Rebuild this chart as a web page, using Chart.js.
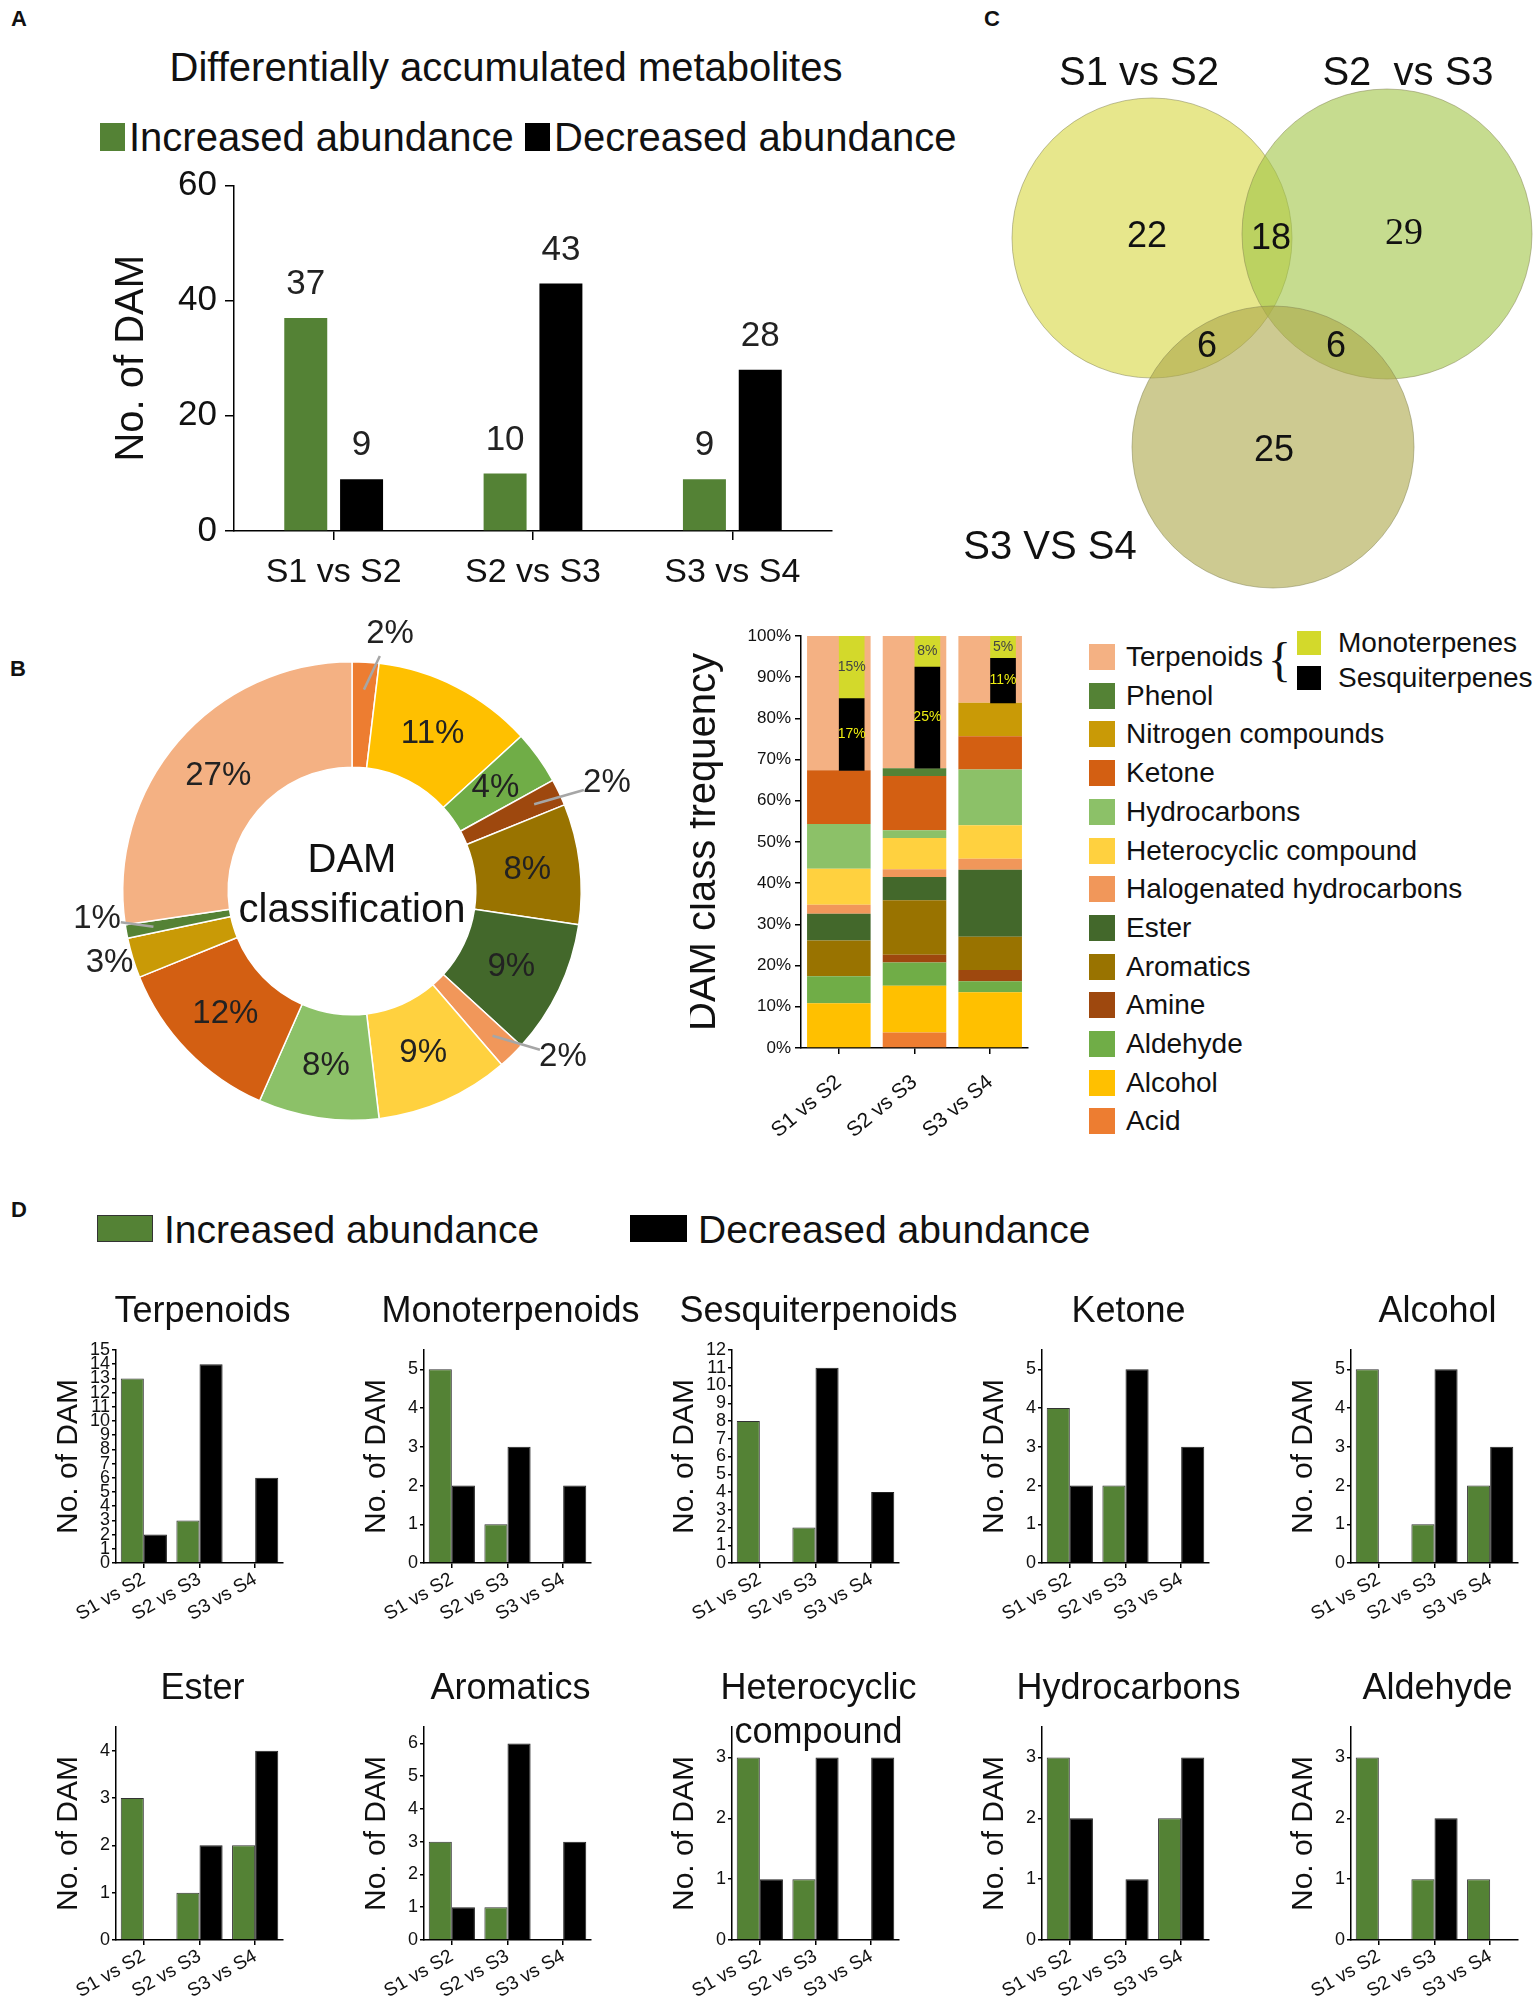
<!DOCTYPE html>
<html>
<head>
<meta charset="utf-8">
<title>Differentially accumulated metabolites</title>
<script src="https://cdn.jsdelivr.net/npm/chart.js@4.4.1/dist/chart.umd.min.js"></script>
<style>
  body { margin: 0; background: #fff; }
  #page { position: relative; width: 1536px; height: 2004px; overflow: hidden; font-family: 'Liberation Sans', Arial, sans-serif; color: #111; }
  #page canvas { position: absolute; }
  .txt { position: absolute; white-space: nowrap; line-height: 1; transform: translateY(-50%); }
  .box { position: absolute; box-sizing: border-box; }
</style>
</head>
<body>
<div id="page"></div>
<script>
// ---- data ----
const comparisons = ['S1 vs S2', 'S2 vs S3', 'S3 vs S4'];
const increasedTotal = [37, 10, 9];
const decreasedTotal = [9, 43, 28];

const classNames = ['Acid', 'Alcohol', 'Aldehyde', 'Amine', 'Aromatics', 'Ester', 'Halogenated hydrocarbons',
  'Heterocyclic compound', 'Hydrocarbons', 'Ketone', 'Nitrogen compounds', 'Phenol', 'Terpenoids'];
const classColors = ['#ed7d31', '#ffc000', '#70ad47', '#9e480e', '#997300', '#43682b', '#f1975a',
  '#ffd13f', '#8cc168', '#d35f12', '#c99a06', '#548235', '#f4b183'];
// doughnut: number of DAM per class (all comparisons)
const classTotals = [2, 12, 4, 2, 9, 10, 2, 10, 9, 13, 3, 1, 29];
const donutOutside = [true, false, false, true, false, false, true, false, false, false, true, true, false];
const donutLeader = [true, false, false, true, false, false, true, false, false, false, false, true, false];
// nudges for the outside labels (px)
const donutLabelDx = [22, 0, 0, 10, 0, 0, 22, 0, 0, 0, 17, 12, 0];
const donutLabelDy = [14, 0, 0, 9, 0, 0, -29, 0, 0, 0, -7, -20, 0];

// stacked frequency bars: counts per class for each comparison
const s1s2Counts = [0, 5, 3, 0, 4, 3, 1, 4, 5, 6, 0, 0, 15];
const s2s3Counts = [2, 6, 3, 1, 7, 3, 1, 4, 1, 7, 0, 1, 17];
const s3s4Counts = [0, 5, 1, 1, 3, 6, 1, 3, 5, 3, 3, 0, 6];
const monoCounts = [7, 4, 2];
const sesquiCounts = [8, 13, 4];

// venn
const vennTitles = ['S1 vs S2', 'S2  vs S3', 'S3 VS S4'];
const vennTitleX = [199, 468, 110];
const vennTitleY = [54, 54, 528];
const vennCircleX = [212, 447, 333];
const vennCircleY = [218, 214, 427];
const vennRadius = [140, 145, 141];
const vennNumbers = [22, 18, 29, 6, 6, 25];
const vennNumX = [207, 331, 464, 267, 396, 334];
const vennNumY = [217, 219, 214, 327, 327, 431];
const vennNumSerif = [false, false, true, false, false, false];

// panel D
const smallTitles = [['Terpenoids'], ['Monoterpenoids'], ['Sesquiterpenoids'], ['Ketone'], ['Alcohol'],
  ['Ester'], ['Aromatics'], ['Heterocyclic', 'compound'], ['Hydrocarbons'], ['Aldehyde']];
const smallIncreased = [[13, 3, 0], [5, 1, 0], [8, 2, 0], [4, 2, 0], [5, 1, 2],
  [3, 1, 2], [3, 1, 0], [3, 1, 0], [3, 0, 2], [3, 1, 1]];
const smallDecreased = [[2, 14, 6], [2, 3, 2], [0, 11, 4], [2, 5, 3], [0, 5, 3],
  [0, 2, 4], [1, 6, 3], [1, 3, 3], [2, 1, 3], [0, 2, 0]];
const smallMax = [15, 5.5, 12, 5.5, 5.5, 4.5, 6.5, 3.5, 3.5, 3.5];

// ---- setup ----
const FONT = "'Liberation Sans', Arial, sans-serif";
const GREEN = '#548235';
Chart.defaults.font.family = FONT;
Chart.defaults.color = '#111';
Chart.defaults.animation = false;
Chart.defaults.events = [];
Chart.defaults.plugins.legend.display = false;
Chart.defaults.plugins.tooltip.enabled = false;

const page = document.getElementById('page');

function addCanvas(left, top, w, h) {
  const c = document.createElement('canvas');
  c.width = w; c.height = h;
  c.style.left = left + 'px'; c.style.top = top + 'px';
  c.style.width = w + 'px'; c.style.height = h + 'px';
  page.appendChild(c);
  return c;
}

function addText(str, left, cy, size, opts = {}) {
  const d = document.createElement('div');
  d.className = 'txt';
  d.textContent = str;
  d.style.left = left + 'px';
  d.style.top = cy + 'px';
  d.style.fontSize = size + 'px';
  if (opts.center) d.style.transform = 'translate(-50%,-50%)';
  if (opts.bold) d.style.fontWeight = 'bold';
  if (opts.family) d.style.fontFamily = opts.family;
  page.appendChild(d);
}

function addBox(left, top, w, h, color, border) {
  const d = document.createElement('div');
  d.className = 'box';
  d.style.left = left + 'px'; d.style.top = top + 'px';
  d.style.width = w + 'px'; d.style.height = h + 'px';
  d.style.background = color;
  if (border) d.style.border = border;
  page.appendChild(d);
}

function axisGrid(len) {
  return { drawOnChartArea: false, color: '#000', lineWidth: 1.5, tickLength: len, offset: false };
}
const axisBorder = { color: '#000', width: 1.5 };

// value labels above bars
const barLabels = {
  id: 'barLabels',
  afterDatasetsDraw(chart, args, opts) {
    const ctx = chart.ctx;
    ctx.save();
    ctx.font = opts.size + 'px ' + FONT;
    ctx.fillStyle = '#222';
    ctx.textAlign = 'center';
    ctx.textBaseline = 'bottom';
    chart.data.datasets.forEach((ds, di) => {
      chart.getDatasetMeta(di).data.forEach((bar, i) => {
        ctx.fillText(ds.data[i], bar.x, bar.y - opts.gap);
      });
    });
    ctx.restore();
  }
};

// ---- text around the charts ----
addText('A', 19, 19, 22, { center: true, bold: true });
addText('B', 18, 669, 22, { center: true, bold: true });
addText('C', 992, 19, 22, { center: true, bold: true });
addText('D', 19, 1210, 22, { center: true, bold: true });

addText('Differentially accumulated metabolites', 506, 67, 40, { center: true });
addBox(100, 123, 25, 28, GREEN);
addText('Increased abundance', 129, 137, 40);
addBox(525, 123, 25, 28, '#000');
addText('Decreased abundance', 554, 137, 40);

// panel B legend (top to bottom = reverse class order)
for (let k = 0; k < classNames.length; k++) {
  const j = classNames.length - 1 - k;
  const cy = 657 + k * 38.7;
  addBox(1089, cy - 13, 26, 26, classColors[j]);
  addText(classNames[j], 1126, cy, 28);
}
addText('{', 1268, 660, 48, { family: "'Liberation Serif', serif" });
addBox(1297, 631, 24, 24, '#d3d92b');
addText('Monoterpenes', 1338, 643, 28);
addBox(1297, 666, 24, 24, '#000');
addText('Sesquiterpenes', 1338, 678, 28);

// panel D legend
addBox(97, 1215, 56, 27, GREEN, '1.5px solid #333');
addText('Increased abundance', 164, 1229, 39);
addBox(630, 1215, 57, 27, '#000');
addText('Decreased abundance', 698, 1229, 39);

// ---- A: totals ----
new Chart(addCanvas(0, 160, 880, 460), {
  type: 'bar',
  data: {
    labels: comparisons,
    datasets: [
      { data: increasedTotal, backgroundColor: GREEN, categoryPercentage: 0.56, barPercentage: 0.77 },
      { data: decreasedTotal, backgroundColor: '#000', categoryPercentage: 0.56, barPercentage: 0.77 },
    ],
  },
  options: {
    responsive: false,
    layout: { padding: { top: 16, right: 48, left: 60, bottom: 0 } },
    plugins: { barLabels: { size: 35, gap: 16 } },
    scales: {
      x: {
        grid: axisGrid(9), border: axisBorder,
        ticks: { font: { size: 34 }, color: '#111', padding: 12 },
        afterFit: s => { s.height = 89; },
      },
      y: {
        min: 0, max: 60,
        grid: axisGrid(9), border: axisBorder,
        ticks: { stepSize: 20, font: { size: 35, lineHeight: 1 }, color: '#111', padding: 8 },
        title: { display: true, text: 'No. of DAM', color: '#111', font: { size: 40, lineHeight: 1 }, padding: { top: 52, bottom: 0 } },
        afterFit: s => { s.width = 174; },
      },
    },
  },
  plugins: [barLabels],
});

// ---- C: venn ----
const vennText = {
  id: 'vennText',
  afterDatasetsDraw(chart) {
    const { ctx, scales: { x, y } } = chart;
    ctx.save();
    ctx.fillStyle = '#111';
    ctx.textAlign = 'center';
    ctx.textBaseline = 'middle';
    vennNumbers.forEach((n, i) => {
      ctx.font = vennNumSerif[i] ? "38px 'Liberation Serif', serif" : '36px ' + FONT;
      ctx.fillText(n, x.getPixelForValue(vennNumX[i]), y.getPixelForValue(vennNumY[i]));
    });
    ctx.font = '40px ' + FONT;
    vennTitles.forEach((t, i) => {
      ctx.fillText(t, x.getPixelForValue(vennTitleX[i]), y.getPixelForValue(vennTitleY[i]));
    });
    ctx.restore();
  }
};
new Chart(addCanvas(940, 20, 596, 590), {
  type: 'bubble',
  data: {
    datasets: [{
      data: vennCircleX.map((x, i) => ({ x: x, y: vennCircleY[i], r: vennRadius[i] })),
      backgroundColor: ['rgba(215,215,63,0.6)', 'rgba(160,196,68,0.6)', 'rgba(172,167,72,0.6)'],
      borderColor: 'rgba(130,130,80,0.5)',
      borderWidth: 1,
      clip: false,
    }],
  },
  options: {
    responsive: false,
    layout: { padding: 0, autoPadding: false },
    scales: {
      x: { display: false, min: 0, max: 596 },
      y: { display: false, min: 0, max: 590, reverse: true },
    },
  },
  plugins: [vennText],
});

// ---- B: doughnut ----
const donutText = {
  id: 'donutText',
  afterDatasetsDraw(chart) {
    const ctx = chart.ctx;
    const meta = chart.getDatasetMeta(0);
    const total = classTotals.reduce((a, b) => a + b, 0);
    ctx.save();
    ctx.fillStyle = '#222';
    ctx.textAlign = 'center';
    ctx.textBaseline = 'middle';
    ctx.font = '33px ' + FONT;
    let cx = 0, cy = 0;
    meta.data.forEach((arc, i) => {
      const p = arc.getProps(['x', 'y', 'startAngle', 'endAngle', 'innerRadius', 'outerRadius'], true);
      cx = p.x; cy = p.y;
      const mid = (p.startAngle + p.endAngle) / 2;
      const txt = Math.round(classTotals[i] / total * 100) + '%';
      if (donutOutside[i]) {
        const r = p.outerRadius + 42;
        const lx = p.x + Math.cos(mid) * r + donutLabelDx[i];
        const ly = p.y + Math.sin(mid) * r + donutLabelDy[i];
        if (donutLeader[i]) {
          const sx = p.x + Math.cos(mid) * p.outerRadius * 0.88;
          const sy = p.y + Math.sin(mid) * p.outerRadius * 0.88;
          const d = Math.hypot(lx - sx, ly - sy);
          ctx.strokeStyle = '#a6a6a6';
          ctx.lineWidth = 2.5;
          ctx.beginPath();
          ctx.moveTo(sx, sy);
          ctx.lineTo(lx - (lx - sx) * 24 / d, ly - (ly - sy) * 24 / d);
          ctx.stroke();
        }
        ctx.fillText(txt, lx, ly);
      } else {
        const r = (p.innerRadius + p.outerRadius) / 2;
        ctx.fillText(txt, p.x + Math.cos(mid) * r, p.y + Math.sin(mid) * r);
      }
    });
    ctx.fillStyle = '#111';
    ctx.font = '40px ' + FONT;
    ctx.fillText('DAM', cx, cy - 30);
    ctx.fillText('classification', cx, cy + 20);
    ctx.restore();
  }
};
new Chart(addCanvas(40, 580, 624, 590), {
  type: 'doughnut',
  data: {
    labels: classNames,
    datasets: [{ data: classTotals, backgroundColor: classColors, borderColor: '#fff', borderWidth: 1.5 }],
  },
  options: {
    responsive: false,
    cutout: '54%',
    layout: { padding: { left: 82, right: 82, top: 81, bottom: 49 } },
  },
  plugins: [donutText],
});

// ---- B: class frequency (100% stacked) ----
const stackCounts = [s1s2Counts, s2s3Counts, s3s4Counts];
const stackTotals = stackCounts.map(c => c.reduce((a, b) => a + b, 0));
const pct = (n, k) => n / stackTotals[k] * 100;
const terpIdx = classNames.indexOf('Terpenoids');
const terpBase = stackCounts.map((c, k) => pct(stackTotals[k] - c[terpIdx], k));
const sesquiTop = comparisons.map((_, k) => terpBase[k] + pct(sesquiCounts[k], k));

new Chart(addCanvas(690, 610, 360, 570), {
  type: 'bar',
  data: {
    labels: comparisons,
    datasets: classNames.map((name, j) => ({
      label: name,
      data: stackCounts.map((c, k) => pct(c[j], k)),
      backgroundColor: classColors[j],
      barPercentage: 0.84,
      categoryPercentage: 1,
    })),
  },
  options: {
    responsive: false,
    layout: { padding: { top: 26, right: 22, left: 0, bottom: 0 } },
    scales: {
      x: {
        stacked: true,
        grid: axisGrid(6), border: axisBorder,
        ticks: { font: { size: 21 }, color: '#111', minRotation: 40, maxRotation: 40, padding: 16 },
        afterFit: s => { s.height = 132; },
      },
      y: {
        stacked: true, min: 0, max: 100,
        grid: axisGrid(6), border: axisBorder,
        ticks: { stepSize: 10, font: { size: 17 }, color: '#111', padding: 4, callback: v => v + '%' },
        title: { display: true, text: 'DAM class frequency', color: '#111', font: { size: 40, lineHeight: 1 }, padding: { top: -6, bottom: 0 } },
        afterFit: s => { s.width = 111; },
      },
    },
  },
});

// terpenoid split drawn on top of the stacked bars, same plot area
const terpText = {
  id: 'terpText',
  afterDatasetsDraw(chart) {
    const ctx = chart.ctx;
    ctx.save();
    ctx.font = '14px ' + FONT;
    ctx.textAlign = 'center';
    ctx.textBaseline = 'middle';
    chart.data.datasets.forEach((ds, di) => {
      ctx.fillStyle = ds.labelColor;
      chart.getDatasetMeta(di).data.forEach((bar, i) => {
        const p = bar.getProps(['x', 'y', 'base'], true);
        ctx.fillText(ds.pctLabels[i], p.x, (p.y + p.base) / 2);
      });
    });
    ctx.restore();
  }
};
new Chart(addCanvas(690, 610, 360, 570), {
  type: 'bar',
  data: {
    datasets: [
      {
        label: 'Sesquiterpenes',
        data: comparisons.map((_, k) => ({ x: k + 0.17, y: [terpBase[k], sesquiTop[k]] })),
        backgroundColor: '#000', barThickness: 25,
        pctLabels: sesquiCounts.map((n, k) => Math.round(pct(n, k)) + '%'), labelColor: '#eeee10',
      },
      {
        label: 'Monoterpenes',
        data: comparisons.map((_, k) => ({ x: k + 0.17, y: [sesquiTop[k], sesquiTop[k] + pct(monoCounts[k], k)] })),
        backgroundColor: '#d3d92b', barThickness: 25,
        pctLabels: monoCounts.map((n, k) => Math.round(pct(n, k)) + '%'), labelColor: '#444',
      },
    ],
  },
  options: {
    responsive: false,
    layout: { padding: { top: 26, right: 22, left: 111, bottom: 132 } },
    scales: {
      x: { type: 'linear', display: false, min: -0.5, max: 2.5, offset: false, stacked: true },
      y: { display: false, min: 0, max: 100, stacked: false },
    },
  },
  plugins: [terpText],
});

// ---- D: small charts ----
const smallTitle = {
  id: 'smallTitle',
  afterDraw(chart, args, opts) {
    const ctx = chart.ctx;
    const a = chart.chartArea;
    ctx.save();
    ctx.fillStyle = '#111';
    ctx.font = '36px ' + FONT;
    ctx.textAlign = 'center';
    ctx.textBaseline = 'middle';
    opts.lines.forEach((t, k) => {
      ctx.fillText(t, (a.left + a.right) / 2 + 3, a.top - 38 + k * 44);
    });
    ctx.restore();
  }
};

const smallAxisX = [116, 424, 732, 1042, 1351];
const smallTop = [1350, 1727];
smallTitles.forEach((title, i) => {
  const col = i % 5, row = Math.floor(i / 5);
  const left = smallAxisX[col] - 69;
  const top = smallTop[row] - 80;
  new Chart(addCanvas(left, top, 300, 357), {
    type: 'bar',
    data: {
      labels: comparisons,
      datasets: [
        { data: smallIncreased[i], backgroundColor: GREEN, borderColor: '#333', borderWidth: 1, categoryPercentage: 0.83, barPercentage: 1 },
        { data: smallDecreased[i], backgroundColor: '#000', borderColor: '#222', borderWidth: 1, categoryPercentage: 0.83, barPercentage: 1 },
      ],
    },
    options: {
      responsive: false,
      layout: { padding: { top: 80, right: 64, left: 0, bottom: 0 } },
      plugins: { smallTitle: { lines: title } },
      scales: {
        x: {
          grid: axisGrid(5), border: axisBorder,
          ticks: { font: { size: 19 }, color: '#111', minRotation: 30, maxRotation: 30, padding: 0 },
          afterFit: s => { s.height = 64; },
        },
        y: {
          min: 0, max: smallMax[i],
          grid: axisGrid(4), border: axisBorder,
          ticks: { stepSize: 1, autoSkip: false, includeBounds: false, font: { size: 18, lineHeight: 1 }, color: '#111', padding: 2 },
          title: { display: true, text: 'No. of DAM', color: '#111', font: { size: 30, lineHeight: 1 }, padding: { top: 7, bottom: 0 } },
          afterFit: s => { s.width = 69; },
        },
      },
    },
    plugins: [smallTitle],
  });
});
</script>
</body>
</html>
